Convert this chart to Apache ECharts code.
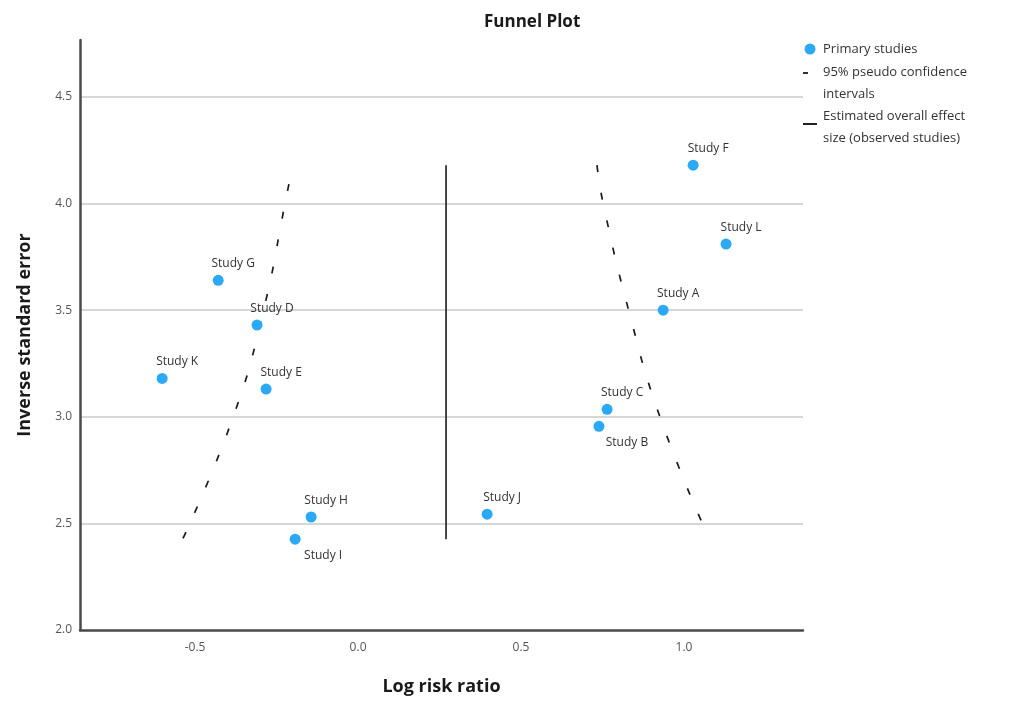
<!DOCTYPE html>
<html>
<head>
<meta charset="utf-8">
<script src="https://cdn.jsdelivr.net/npm/echarts@6/dist/echarts.min.js"></script>
<style>
html,body{margin:0;padding:0;background:#fff;}
#chart{width:1029px;height:702px;}
</style>
</head>
<body>
<div id="chart"></div>
<script>
// ---- data ----
const studies = ['Study A','Study B','Study C','Study D','Study E','Study F','Study G','Study H','Study I','Study J','Study K','Study L'];
const logRiskRatio = [0.936, 0.739, 0.764, -0.310, -0.282, 1.028, -0.429, -0.144, -0.193, 0.396, -0.601, 1.129];
const inverseSE   = [3.50, 2.955, 3.035, 3.43, 3.13, 4.18, 3.64, 2.53, 2.426, 2.543, 3.18, 3.81];

const ciLeftX  = [-0.537, -0.383, -0.290, -0.224, -0.206];
const ciLeftY  = [2.430, 3.000, 3.500, 4.000, 4.140];
const ciRightX = [0.733, 0.752, 0.830, 0.926, 1.068];
const ciRightY = [4.180, 4.000, 3.500, 3.000, 2.460];

const overallEffect = 0.27;
const effectYRange = [2.426, 4.18];

const xTicks = [-0.5, 0.0, 0.5, 1.0];
const yTicks = [2.0, 2.5, 3.0, 3.5, 4.0, 4.5];

// ---- build ----
const FONT = '"Open Sans", "DejaVu Sans", sans-serif';
const labelsBelow = ['Study B', 'Study I'];

const scatterData = studies.map((n, i) => {
  const item = { name: n, value: [logRiskRatio[i], inverseSE[i]] };
  if (labelsBelow.indexOf(n) >= 0) {
    item.label = { position: 'bottom', offset: [28, 0] };
  }
  return item;
});
const zip = (xs, ys) => xs.map((x, i) => [x, ys[i]]);

const chart = echarts.init(document.getElementById('chart'), null, { renderer: 'canvas' });
chart.setOption({
  backgroundColor: '#ffffff',
  animation: false,
  title: {
    text: 'Funnel Plot',
    left: 479, top: 9,
    textStyle: { fontFamily: FONT, fontSize: 17, fontWeight: 'bold', color: '#1a1a1a' }
  },
  grid: { left: 80, right: 226, top: 40, bottom: 72, containLabel: false },
  xAxis: {
    type: 'value',
    min: -0.853, max: 1.365,
    name: 'Log risk ratio',
    nameLocation: 'middle',
    nameGap: 48,
    nameTextStyle: { fontFamily: FONT, fontSize: 18, fontWeight: 'bold', color: '#1a1a1a' },
    axisLine: { show: true, onZero: false, lineStyle: { color: '#4a4a4a', width: 2.5 } },
    axisTick: { show: false },
    splitLine: { show: false },
    axisLabel: {
      customValues: xTicks,
      margin: 12,
      fontFamily: FONT, fontSize: 12, color: '#555',
      formatter: v => v.toFixed(1)
    }
  },
  yAxis: {
    type: 'value',
    min: 2.0, max: 4.767, interval: 0.5,
    name: 'Inverse standard error',
    nameLocation: 'middle',
    nameGap: 46,
    nameTextStyle: { fontFamily: FONT, fontSize: 18, fontWeight: 'bold', color: '#1a1a1a' },
    axisLine: { show: true, onZero: false, lineStyle: { color: '#4a4a4a', width: 2.5 } },
    axisTick: { show: false },
    splitLine: { show: true, showMaxLine: false, showMinLine: false, lineStyle: { color: '#c8c8c8', width: 1.5 } },
    axisLabel: {
      customValues: yTicks,
      margin: 8,
      fontFamily: FONT, fontSize: 12, color: '#555',
      formatter: v => v.toFixed(1)
    }
  },
  series: [
    {
      name: '95% pseudo confidence intervals',
      type: 'line',
      data: zip(ciLeftX, ciLeftY),
      smooth: true,
      showSymbol: false,
      lineStyle: { color: '#1a1a1a', width: 1.7, type: [7, 21] },
      z: 3
    },
    {
      name: '95% pseudo confidence intervals',
      type: 'line',
      data: zip(ciRightX, ciRightY),
      smooth: true,
      showSymbol: false,
      lineStyle: { color: '#1a1a1a', width: 1.7, type: [7, 21] },
      z: 3
    },
    {
      name: 'Estimated overall effect size (observed studies)',
      type: 'line',
      data: [[overallEffect, effectYRange[0]], [overallEffect, effectYRange[1]]],
      showSymbol: false,
      lineStyle: { color: '#333', width: 1.8 },
      z: 3
    },
    {
      name: 'Primary studies',
      type: 'scatter',
      data: scatterData,
      symbol: 'circle',
      symbolSize: 11,
      itemStyle: { color: '#2ca9f4', opacity: 1 },
      label: {
        show: true,
        position: 'top',
        distance: 5,
        offset: [15, 0],
        formatter: p => p.name,
        fontFamily: FONT, fontSize: 12, color: '#333'
      },
      z: 4
    }
  ],
  graphic: [
    { type: 'circle', shape: { cx: 810, cy: 49, r: 5.5 }, style: { fill: '#2ca9f4' } },
    { type: 'text', left: 823, top: 43, style: { text: 'Primary studies', font: '13px ' + FONT, fill: '#333' } },
    { type: 'rect', shape: { x: 803, y: 72, width: 5, height: 2 }, style: { fill: '#333' } },
    { type: 'text', left: 823, top: 61, style: { text: '95% pseudo confidence\nintervals', font: '13px ' + FONT, fill: '#333', lineHeight: 22 } },
    { type: 'rect', shape: { x: 803, y: 123, width: 14, height: 2 }, style: { fill: '#222' } },
    { type: 'text', left: 823, top: 105, style: { text: 'Estimated overall effect\nsize (observed studies)', font: '13px ' + FONT, fill: '#333', lineHeight: 22 } }
  ]
});
</script>
</body>
</html>
